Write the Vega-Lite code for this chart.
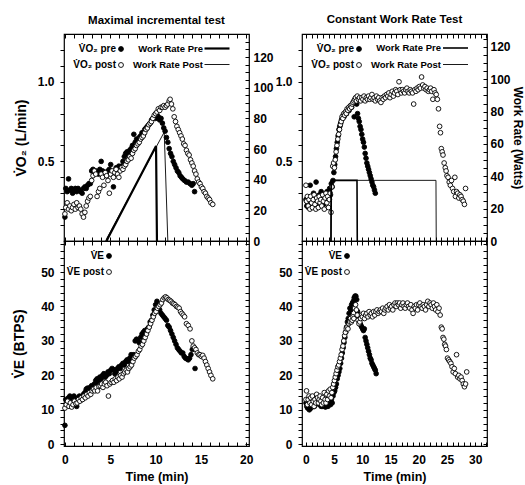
{
"$schema": "https://vega.github.io/schema/vega-lite/v6.json",
"padding": {"left": 12, "top": 13, "right": 0, "bottom": 0},
"background": "white",
"config": {
 "font": "Liberation Sans",
 "view": {"stroke": "black", "strokeWidth": 1.2},
 "axis": {"domain": false, "grid": false, "tickColor": "black", "tickSize": -4, "tickWidth": 1, "labelFontWeight": "bold", "labelFontSize": 12, "labelColor": "black", "labelPadding": 8, "titleFontWeight": "bold", "titleFontSize": 14, "titleColor": "black", "labelFlush": false, "labelOverlap": false},
 "legend": {"labelFontWeight": "bold", "labelFontSize": 10, "labelColor": "black", "labelAlign": "right"},
 "title": {"fontWeight": "bold", "fontSize": 11.5, "color": "black", "offset": 7, "anchor": "middle", "frame": "group"}
},
"datasets": {
"inc_vo2": [
{"t":0,"v":0.15,"s":"pre"},{"t":0.1,"v":0.33,"s":"pre"},{"t":0.25,"v":0.31,"s":"pre"},{"t":0.4,"v":0.39,"s":"pre"},{"t":0.55,"v":0.32,"s":"pre"},{"t":0.7,"v":0.33,"s":"pre"},{"t":0.85,"v":0.30,"s":"pre"},{"t":1.0,"v":0.32,"s":"pre"},{"t":1.15,"v":0.33,"s":"pre"},{"t":1.3,"v":0.31,"s":"pre"},{"t":1.45,"v":0.33,"s":"pre"},{"t":1.6,"v":0.32,"s":"pre"},{"t":1.75,"v":0.31,"s":"pre"},{"t":1.9,"v":0.30,"s":"pre"},{"t":2.05,"v":0.33,"s":"pre"},{"t":2.2,"v":0.34,"s":"pre"},{"t":2.35,"v":0.33,"s":"pre"},{"t":2.5,"v":0.35,"s":"pre"},{"t":2.65,"v":0.36,"s":"pre"},{"t":2.8,"v":0.36,"s":"pre"},{"t":2.95,"v":0.44,"s":"pre"},{"t":3.1,"v":0.45,"s":"pre"},{"t":3.25,"v":0.43,"s":"pre"},{"t":3.4,"v":0.44,"s":"pre"},{"t":3.55,"v":0.43,"s":"pre"},{"t":3.7,"v":0.42,"s":"pre"},{"t":3.85,"v":0.45,"s":"pre"},{"t":4.0,"v":0.50,"s":"pre"},{"t":4.15,"v":0.44,"s":"pre"},{"t":4.3,"v":0.42,"s":"pre"},{"t":4.45,"v":0.43,"s":"pre"},{"t":4.6,"v":0.41,"s":"pre"},{"t":4.75,"v":0.44,"s":"pre"},{"t":4.9,"v":0.45,"s":"pre"},{"t":5.05,"v":0.48,"s":"pre"},{"t":5.2,"v":0.43,"s":"pre"},{"t":5.35,"v":0.34,"s":"pre"},{"t":5.5,"v":0.44,"s":"pre"},{"t":5.65,"v":0.46,"s":"pre"},{"t":5.8,"v":0.45,"s":"pre"},{"t":5.95,"v":0.47,"s":"pre"},{"t":6.1,"v":0.46,"s":"pre"},{"t":6.25,"v":0.47,"s":"pre"},{"t":6.4,"v":0.50,"s":"pre"},{"t":6.55,"v":0.53,"s":"pre"},{"t":6.7,"v":0.55,"s":"pre"},{"t":6.85,"v":0.56,"s":"pre"},{"t":7.0,"v":0.54,"s":"pre"},{"t":7.15,"v":0.57,"s":"pre"},{"t":7.3,"v":0.58,"s":"pre"},{"t":7.45,"v":0.60,"s":"pre"},{"t":7.6,"v":0.67,"s":"pre"},{"t":7.75,"v":0.62,"s":"pre"},{"t":7.9,"v":0.64,"s":"pre"},{"t":8.05,"v":0.63,"s":"pre"},{"t":8.2,"v":0.65,"s":"pre"},{"t":8.35,"v":0.66,"s":"pre"},{"t":8.5,"v":0.68,"s":"pre"},{"t":8.65,"v":0.67,"s":"pre"},{"t":8.8,"v":0.70,"s":"pre"},{"t":8.95,"v":0.71,"s":"pre"},{"t":9.1,"v":0.72,"s":"pre"},{"t":9.25,"v":0.73,"s":"pre"},{"t":9.4,"v":0.74,"s":"pre"},{"t":9.55,"v":0.76,"s":"pre"},{"t":9.7,"v":0.77,"s":"pre"},{"t":9.85,"v":0.78,"s":"pre"},{"t":10.0,"v":0.77,"s":"pre"},{"t":10.15,"v":0.79,"s":"pre"},{"t":10.3,"v":0.78,"s":"pre"},{"t":10.45,"v":0.76,"s":"pre"},{"t":10.6,"v":0.77,"s":"pre"},{"t":10.75,"v":0.74,"s":"pre"},{"t":10.9,"v":0.71,"s":"pre"},{"t":11.05,"v":0.69,"s":"pre"},{"t":11.2,"v":0.65,"s":"pre"},{"t":11.35,"v":0.62,"s":"pre"},{"t":11.5,"v":0.58,"s":"pre"},{"t":11.65,"v":0.55,"s":"pre"},{"t":11.8,"v":0.53,"s":"pre"},{"t":11.95,"v":0.50,"s":"pre"},{"t":12.1,"v":0.48,"s":"pre"},{"t":12.25,"v":0.46,"s":"pre"},{"t":12.4,"v":0.44,"s":"pre"},{"t":12.55,"v":0.43,"s":"pre"},{"t":12.7,"v":0.41,"s":"pre"},{"t":12.85,"v":0.40,"s":"pre"},{"t":13.0,"v":0.39,"s":"pre"},{"t":13.2,"v":0.38,"s":"pre"},{"t":13.4,"v":0.37,"s":"pre"},{"t":13.6,"v":0.37,"s":"pre"},{"t":13.8,"v":0.36,"s":"pre"},{"t":14.0,"v":0.35,"s":"pre"},{"t":14.15,"v":0.36,"s":"pre"},{"t":14.3,"v":0.31,"s":"pre"},
{"t":0,"v":0.17,"s":"post"},{"t":0.1,"v":0.21,"s":"post"},{"t":0.25,"v":0.24,"s":"post"},{"t":0.4,"v":0.20,"s":"post"},{"t":0.55,"v":0.22,"s":"post"},{"t":0.7,"v":0.19,"s":"post"},{"t":0.85,"v":0.21,"s":"post"},{"t":1.0,"v":0.23,"s":"post"},{"t":1.15,"v":0.20,"s":"post"},{"t":1.3,"v":0.24,"s":"post"},{"t":1.45,"v":0.21,"s":"post"},{"t":1.6,"v":0.22,"s":"post"},{"t":1.75,"v":0.20,"s":"post"},{"t":1.9,"v":0.17,"s":"post"},{"t":2.05,"v":0.15,"s":"post"},{"t":2.2,"v":0.18,"s":"post"},{"t":2.35,"v":0.22,"s":"post"},{"t":2.5,"v":0.25,"s":"post"},{"t":2.65,"v":0.27,"s":"post"},{"t":2.8,"v":0.28,"s":"post"},{"t":2.95,"v":0.38,"s":"post"},{"t":3.1,"v":0.41,"s":"post"},{"t":3.25,"v":0.44,"s":"post"},{"t":3.4,"v":0.42,"s":"post"},{"t":3.55,"v":0.28,"s":"post"},{"t":3.7,"v":0.31,"s":"post"},{"t":3.85,"v":0.33,"s":"post"},{"t":4.0,"v":0.42,"s":"post"},{"t":4.15,"v":0.40,"s":"post"},{"t":4.3,"v":0.35,"s":"post"},{"t":4.45,"v":0.43,"s":"post"},{"t":4.6,"v":0.41,"s":"post"},{"t":4.75,"v":0.38,"s":"post"},{"t":4.9,"v":0.30,"s":"post"},{"t":5.05,"v":0.42,"s":"post"},{"t":5.2,"v":0.44,"s":"post"},{"t":5.35,"v":0.40,"s":"post"},{"t":5.5,"v":0.43,"s":"post"},{"t":5.65,"v":0.45,"s":"post"},{"t":5.8,"v":0.42,"s":"post"},{"t":5.95,"v":0.40,"s":"post"},{"t":6.1,"v":0.44,"s":"post"},{"t":6.25,"v":0.46,"s":"post"},{"t":6.4,"v":0.45,"s":"post"},{"t":6.55,"v":0.47,"s":"post"},{"t":6.7,"v":0.48,"s":"post"},{"t":6.85,"v":0.50,"s":"post"},{"t":7.0,"v":0.51,"s":"post"},{"t":7.15,"v":0.53,"s":"post"},{"t":7.3,"v":0.52,"s":"post"},{"t":7.45,"v":0.55,"s":"post"},{"t":7.6,"v":0.57,"s":"post"},{"t":7.75,"v":0.58,"s":"post"},{"t":7.9,"v":0.60,"s":"post"},{"t":8.05,"v":0.61,"s":"post"},{"t":8.2,"v":0.62,"s":"post"},{"t":8.35,"v":0.64,"s":"post"},{"t":8.5,"v":0.65,"s":"post"},{"t":8.65,"v":0.66,"s":"post"},{"t":8.8,"v":0.68,"s":"post"},{"t":8.95,"v":0.70,"s":"post"},{"t":9.1,"v":0.71,"s":"post"},{"t":9.25,"v":0.73,"s":"post"},{"t":9.4,"v":0.74,"s":"post"},{"t":9.55,"v":0.75,"s":"post"},{"t":9.7,"v":0.77,"s":"post"},{"t":9.85,"v":0.79,"s":"post"},{"t":10.0,"v":0.80,"s":"post"},{"t":10.15,"v":0.81,"s":"post"},{"t":10.3,"v":0.83,"s":"post"},{"t":10.45,"v":0.82,"s":"post"},{"t":10.6,"v":0.84,"s":"post"},{"t":10.75,"v":0.84,"s":"post"},{"t":10.9,"v":0.85,"s":"post"},{"t":11.05,"v":0.84,"s":"post"},{"t":11.2,"v":0.85,"s":"post"},{"t":11.35,"v":0.86,"s":"post"},{"t":11.5,"v":0.88,"s":"post"},{"t":11.6,"v":0.89,"s":"post"},{"t":11.75,"v":0.86,"s":"post"},{"t":11.9,"v":0.83,"s":"post"},{"t":12.05,"v":0.78,"s":"post"},{"t":12.2,"v":0.75,"s":"post"},{"t":12.35,"v":0.72,"s":"post"},{"t":12.5,"v":0.70,"s":"post"},{"t":12.65,"v":0.68,"s":"post"},{"t":12.8,"v":0.66,"s":"post"},{"t":12.95,"v":0.64,"s":"post"},{"t":13.1,"v":0.61,"s":"post"},{"t":13.25,"v":0.60,"s":"post"},{"t":13.4,"v":0.57,"s":"post"},{"t":13.55,"v":0.55,"s":"post"},{"t":13.7,"v":0.54,"s":"post"},{"t":13.85,"v":0.51,"s":"post"},{"t":14.0,"v":0.49,"s":"post"},{"t":14.15,"v":0.47,"s":"post"},{"t":14.3,"v":0.44,"s":"post"},{"t":14.45,"v":0.42,"s":"post"},{"t":14.6,"v":0.39,"s":"post"},{"t":14.75,"v":0.37,"s":"post"},{"t":14.9,"v":0.36,"s":"post"},{"t":15.05,"v":0.34,"s":"post"},{"t":15.2,"v":0.33,"s":"post"},{"t":15.35,"v":0.31,"s":"post"},{"t":15.5,"v":0.30,"s":"post"},{"t":15.65,"v":0.28,"s":"post"},{"t":15.8,"v":0.27,"s":"post"},{"t":15.95,"v":0.26,"s":"post"},{"t":16.1,"v":0.24,"s":"post"},{"t":16.3,"v":0.23,"s":"post"}
],
"inc_wr": [
{"t":4.6,"w":0,"s":"pre"},{"t":4.75,"w":2,"s":"pre"},{"t":10.05,"w":62,"s":"pre"},{"t":10.15,"w":0,"s":"pre"},
{"t":4.5,"w":0,"s":"post"},{"t":4.65,"w":2,"s":"post"},{"t":10.95,"w":71,"s":"post"},{"t":11.35,"w":0,"s":"post"}
],
"inc_ve": [
{"t":0,"v":5.5,"s":"pre"},{"t":0.1,"v":13.0,"s":"pre"},{"t":0.25,"v":12.0,"s":"pre"},{"t":0.4,"v":13.5,"s":"pre"},{"t":0.55,"v":14.0,"s":"pre"},{"t":0.7,"v":13.2,"s":"pre"},{"t":0.85,"v":12.5,"s":"pre"},{"t":1.0,"v":14.0,"s":"pre"},{"t":1.15,"v":13.0,"s":"pre"},{"t":1.3,"v":11.0,"s":"pre"},{"t":1.45,"v":13.5,"s":"pre"},{"t":1.6,"v":14.0,"s":"pre"},{"t":1.75,"v":12.8,"s":"pre"},{"t":1.9,"v":13.5,"s":"pre"},{"t":2.05,"v":14.5,"s":"pre"},{"t":2.2,"v":15.0,"s":"pre"},{"t":2.35,"v":16.0,"s":"pre"},{"t":2.5,"v":16.3,"s":"pre"},{"t":2.65,"v":15.8,"s":"pre"},{"t":2.8,"v":16.5,"s":"pre"},{"t":2.95,"v":17.0,"s":"pre"},{"t":3.1,"v":16.5,"s":"pre"},{"t":3.25,"v":17.5,"s":"pre"},{"t":3.4,"v":18.5,"s":"pre"},{"t":3.55,"v":19.0,"s":"pre"},{"t":3.7,"v":18.0,"s":"pre"},{"t":3.85,"v":19.5,"s":"pre"},{"t":4.0,"v":19.0,"s":"pre"},{"t":4.15,"v":20.0,"s":"pre"},{"t":4.3,"v":20.5,"s":"pre"},{"t":4.45,"v":19.5,"s":"pre"},{"t":4.6,"v":20.0,"s":"pre"},{"t":4.75,"v":21.0,"s":"pre"},{"t":4.9,"v":20.5,"s":"pre"},{"t":5.05,"v":21.5,"s":"pre"},{"t":5.2,"v":22.0,"s":"pre"},{"t":5.35,"v":21.7,"s":"pre"},{"t":5.5,"v":20.5,"s":"pre"},{"t":5.65,"v":21.0,"s":"pre"},{"t":5.8,"v":22.0,"s":"pre"},{"t":5.95,"v":22.5,"s":"pre"},{"t":6.1,"v":22.0,"s":"pre"},{"t":6.25,"v":23.0,"s":"pre"},{"t":6.4,"v":23.5,"s":"pre"},{"t":6.55,"v":23.0,"s":"pre"},{"t":6.7,"v":24.0,"s":"pre"},{"t":6.85,"v":24.5,"s":"pre"},{"t":7.0,"v":24.0,"s":"pre"},{"t":7.15,"v":25.0,"s":"pre"},{"t":7.3,"v":26.0,"s":"pre"},{"t":7.45,"v":25.5,"s":"pre"},{"t":7.6,"v":26.0,"s":"pre"},{"t":7.75,"v":30.0,"s":"pre"},{"t":7.9,"v":30.5,"s":"pre"},{"t":8.05,"v":30.0,"s":"pre"},{"t":8.2,"v":29.5,"s":"pre"},{"t":8.35,"v":31.0,"s":"pre"},{"t":8.5,"v":32.0,"s":"pre"},{"t":8.65,"v":32.5,"s":"pre"},{"t":8.8,"v":33.0,"s":"pre"},{"t":8.95,"v":32.5,"s":"pre"},{"t":9.1,"v":33.5,"s":"pre"},{"t":9.25,"v":34.0,"s":"pre"},{"t":9.4,"v":35.5,"s":"pre"},{"t":9.55,"v":36.0,"s":"pre"},{"t":9.7,"v":37.5,"s":"pre"},{"t":9.85,"v":39.0,"s":"pre"},{"t":10.0,"v":40.5,"s":"pre"},{"t":10.15,"v":41.5,"s":"pre"},{"t":10.3,"v":40.0,"s":"pre"},{"t":10.45,"v":39.0,"s":"pre"},{"t":10.6,"v":38.0,"s":"pre"},{"t":10.75,"v":37.5,"s":"pre"},{"t":10.9,"v":37.0,"s":"pre"},{"t":11.05,"v":36.5,"s":"pre"},{"t":11.2,"v":36.0,"s":"pre"},{"t":11.35,"v":34.5,"s":"pre"},{"t":11.5,"v":34.0,"s":"pre"},{"t":11.65,"v":33.0,"s":"pre"},{"t":11.8,"v":32.0,"s":"pre"},{"t":11.95,"v":31.0,"s":"pre"},{"t":12.1,"v":30.0,"s":"pre"},{"t":12.25,"v":29.0,"s":"pre"},{"t":12.4,"v":28.0,"s":"pre"},{"t":12.55,"v":27.5,"s":"pre"},{"t":12.7,"v":27.0,"s":"pre"},{"t":12.85,"v":26.5,"s":"pre"},{"t":13.0,"v":26.5,"s":"pre"},{"t":13.15,"v":25.5,"s":"pre"},{"t":13.3,"v":25.0,"s":"pre"},{"t":13.45,"v":24.8,"s":"pre"},{"t":13.6,"v":24.5,"s":"pre"},{"t":13.75,"v":25.0,"s":"pre"},{"t":13.9,"v":26.0,"s":"pre"},{"t":14.05,"v":27.5,"s":"pre"},{"t":14.2,"v":28.0,"s":"pre"},{"t":14.35,"v":22.0,"s":"pre"},
{"t":0,"v":10.5,"s":"post"},{"t":0.15,"v":11.5,"s":"post"},{"t":0.3,"v":12.5,"s":"post"},{"t":0.45,"v":11.0,"s":"post"},{"t":0.6,"v":12.0,"s":"post"},{"t":0.75,"v":10.8,"s":"post"},{"t":0.9,"v":11.5,"s":"post"},{"t":1.05,"v":12.5,"s":"post"},{"t":1.2,"v":11.8,"s":"post"},{"t":1.35,"v":12.0,"s":"post"},{"t":1.5,"v":13.0,"s":"post"},{"t":1.65,"v":12.5,"s":"post"},{"t":1.8,"v":13.5,"s":"post"},{"t":1.95,"v":13.0,"s":"post"},{"t":2.1,"v":14.0,"s":"post"},{"t":2.25,"v":13.5,"s":"post"},{"t":2.4,"v":14.5,"s":"post"},{"t":2.55,"v":14.0,"s":"post"},{"t":2.7,"v":15.0,"s":"post"},{"t":2.85,"v":14.5,"s":"post"},{"t":3.0,"v":15.5,"s":"post"},{"t":3.15,"v":16.0,"s":"post"},{"t":3.3,"v":15.5,"s":"post"},{"t":3.45,"v":16.5,"s":"post"},{"t":3.6,"v":15.5,"s":"post"},{"t":3.75,"v":16.8,"s":"post"},{"t":3.9,"v":17.0,"s":"post"},{"t":4.05,"v":17.5,"s":"post"},{"t":4.2,"v":16.5,"s":"post"},{"t":4.35,"v":17.5,"s":"post"},{"t":4.5,"v":18.0,"s":"post"},{"t":4.65,"v":17.0,"s":"post"},{"t":4.8,"v":14.0,"s":"post"},{"t":4.95,"v":17.5,"s":"post"},{"t":5.1,"v":18.0,"s":"post"},{"t":5.25,"v":18.5,"s":"post"},{"t":5.4,"v":18.0,"s":"post"},{"t":5.55,"v":19.0,"s":"post"},{"t":5.7,"v":18.5,"s":"post"},{"t":5.85,"v":19.5,"s":"post"},{"t":6.0,"v":19.0,"s":"post"},{"t":6.15,"v":20.0,"s":"post"},{"t":6.3,"v":19.5,"s":"post"},{"t":6.45,"v":20.5,"s":"post"},{"t":6.6,"v":21.0,"s":"post"},{"t":6.75,"v":21.5,"s":"post"},{"t":6.9,"v":21.0,"s":"post"},{"t":7.05,"v":22.0,"s":"post"},{"t":7.2,"v":22.5,"s":"post"},{"t":7.35,"v":23.0,"s":"post"},{"t":7.5,"v":24.0,"s":"post"},{"t":7.65,"v":25.0,"s":"post"},{"t":7.8,"v":25.5,"s":"post"},{"t":7.95,"v":26.0,"s":"post"},{"t":8.1,"v":27.0,"s":"post"},{"t":8.25,"v":27.5,"s":"post"},{"t":8.4,"v":28.5,"s":"post"},{"t":8.55,"v":29.0,"s":"post"},{"t":8.7,"v":30.0,"s":"post"},{"t":8.85,"v":31.0,"s":"post"},{"t":9.0,"v":32.0,"s":"post"},{"t":9.15,"v":33.0,"s":"post"},{"t":9.3,"v":34.0,"s":"post"},{"t":9.45,"v":35.0,"s":"post"},{"t":9.6,"v":36.0,"s":"post"},{"t":9.75,"v":37.0,"s":"post"},{"t":9.9,"v":38.0,"s":"post"},{"t":10.05,"v":38.5,"s":"post"},{"t":10.2,"v":39.5,"s":"post"},{"t":10.35,"v":40.0,"s":"post"},{"t":10.5,"v":40.5,"s":"post"},{"t":10.65,"v":41.0,"s":"post"},{"t":10.8,"v":42.0,"s":"post"},{"t":10.95,"v":42.5,"s":"post"},{"t":11.1,"v":42.8,"s":"post"},{"t":11.25,"v":42.5,"s":"post"},{"t":11.4,"v":42.0,"s":"post"},{"t":11.55,"v":41.8,"s":"post"},{"t":11.7,"v":41.5,"s":"post"},{"t":11.85,"v":41.0,"s":"post"},{"t":12.0,"v":40.8,"s":"post"},{"t":12.15,"v":40.5,"s":"post"},{"t":12.3,"v":40.0,"s":"post"},{"t":12.45,"v":39.8,"s":"post"},{"t":12.6,"v":39.5,"s":"post"},{"t":12.75,"v":38.5,"s":"post"},{"t":12.9,"v":38.0,"s":"post"},{"t":13.05,"v":37.5,"s":"post"},{"t":13.2,"v":37.0,"s":"post"},{"t":13.4,"v":35.0,"s":"post"},{"t":13.6,"v":34.5,"s":"post"},{"t":13.8,"v":33.5,"s":"post"},{"t":14.0,"v":30.0,"s":"post"},{"t":14.15,"v":28.5,"s":"post"},{"t":14.3,"v":28.0,"s":"post"},{"t":14.45,"v":27.5,"s":"post"},{"t":14.6,"v":26.5,"s":"post"},{"t":14.75,"v":26.0,"s":"post"},{"t":14.9,"v":26.0,"s":"post"},{"t":15.05,"v":25.5,"s":"post"},{"t":15.2,"v":25.8,"s":"post"},{"t":15.35,"v":25.0,"s":"post"},{"t":15.5,"v":24.0,"s":"post"},{"t":15.65,"v":23.0,"s":"post"},{"t":15.8,"v":22.0,"s":"post"},{"t":15.95,"v":21.0,"s":"post"},{"t":16.1,"v":20.0,"s":"post"},{"t":16.3,"v":19.0,"s":"post"}
],
"cwr_vo2": [
{"t":0,"v":0.26,"s":"pre"},{"t":0.15,"v":0.22,"s":"pre"},{"t":0.3,"v":0.24,"s":"pre"},{"t":0.45,"v":0.21,"s":"pre"},{"t":0.6,"v":0.27,"s":"pre"},{"t":0.75,"v":0.35,"s":"pre"},{"t":0.9,"v":0.23,"s":"pre"},{"t":1.05,"v":0.25,"s":"pre"},{"t":1.2,"v":0.22,"s":"pre"},{"t":1.35,"v":0.30,"s":"pre"},{"t":1.5,"v":0.27,"s":"pre"},{"t":1.65,"v":0.24,"s":"pre"},{"t":1.8,"v":0.37,"s":"pre"},{"t":1.95,"v":0.28,"s":"pre"},{"t":2.1,"v":0.25,"s":"pre"},{"t":2.25,"v":0.22,"s":"pre"},{"t":2.4,"v":0.29,"s":"pre"},{"t":2.55,"v":0.26,"s":"pre"},{"t":2.7,"v":0.31,"s":"pre"},{"t":2.85,"v":0.24,"s":"pre"},{"t":3.0,"v":0.27,"s":"pre"},{"t":3.15,"v":0.23,"s":"pre"},{"t":3.3,"v":0.29,"s":"pre"},{"t":3.45,"v":0.25,"s":"pre"},{"t":3.6,"v":0.28,"s":"pre"},{"t":3.75,"v":0.31,"s":"pre"},{"t":3.9,"v":0.26,"s":"pre"},{"t":4.05,"v":0.30,"s":"pre"},{"t":4.2,"v":0.33,"s":"pre"},{"t":4.35,"v":0.29,"s":"pre"},{"t":4.5,"v":0.36,"s":"pre"},{"t":4.65,"v":0.34,"s":"pre"},{"t":4.8,"v":0.38,"s":"pre"},{"t":4.95,"v":0.43,"s":"pre"},{"t":5.1,"v":0.48,"s":"pre"},{"t":5.25,"v":0.53,"s":"pre"},{"t":5.4,"v":0.58,"s":"pre"},{"t":5.55,"v":0.62,"s":"pre"},{"t":5.7,"v":0.66,"s":"pre"},{"t":5.85,"v":0.70,"s":"pre"},{"t":6.0,"v":0.72,"s":"pre"},{"t":6.15,"v":0.74,"s":"pre"},{"t":6.3,"v":0.76,"s":"pre"},{"t":6.45,"v":0.77,"s":"pre"},{"t":6.6,"v":0.79,"s":"pre"},{"t":6.75,"v":0.78,"s":"pre"},{"t":6.9,"v":0.80,"s":"pre"},{"t":7.05,"v":0.81,"s":"pre"},{"t":7.2,"v":0.80,"s":"pre"},{"t":7.35,"v":0.82,"s":"pre"},{"t":7.5,"v":0.83,"s":"pre"},{"t":7.65,"v":0.82,"s":"pre"},{"t":7.8,"v":0.84,"s":"pre"},{"t":7.95,"v":0.85,"s":"pre"},{"t":8.1,"v":0.84,"s":"pre"},{"t":8.25,"v":0.86,"s":"pre"},{"t":8.4,"v":0.87,"s":"pre"},{"t":8.55,"v":0.78,"s":"pre"},{"t":8.7,"v":0.87,"s":"pre"},{"t":8.85,"v":0.88,"s":"pre"},{"t":9.0,"v":0.86,"s":"pre"},{"t":9.15,"v":0.80,"s":"pre"},{"t":9.3,"v":0.77,"s":"pre"},{"t":9.45,"v":0.75,"s":"pre"},{"t":9.6,"v":0.72,"s":"pre"},{"t":9.75,"v":0.70,"s":"pre"},{"t":9.9,"v":0.67,"s":"pre"},{"t":10.05,"v":0.64,"s":"pre"},{"t":10.2,"v":0.62,"s":"pre"},{"t":10.35,"v":0.59,"s":"pre"},{"t":10.5,"v":0.55,"s":"pre"},{"t":10.65,"v":0.52,"s":"pre"},{"t":10.8,"v":0.49,"s":"pre"},{"t":10.95,"v":0.47,"s":"pre"},{"t":11.1,"v":0.45,"s":"pre"},{"t":11.25,"v":0.43,"s":"pre"},{"t":11.4,"v":0.41,"s":"pre"},{"t":11.55,"v":0.39,"s":"pre"},{"t":11.7,"v":0.37,"s":"pre"},{"t":11.85,"v":0.35,"s":"pre"},{"t":12.0,"v":0.34,"s":"pre"},{"t":12.15,"v":0.32,"s":"pre"},{"t":12.3,"v":0.30,"s":"pre"},
{"t":0,"v":0.35,"s":"post"},{"t":0.1,"v":0.25,"s":"post"},{"t":0.25,"v":0.28,"s":"post"},{"t":0.4,"v":0.22,"s":"post"},{"t":0.55,"v":0.26,"s":"post"},{"t":0.7,"v":0.20,"s":"post"},{"t":0.85,"v":0.28,"s":"post"},{"t":1.0,"v":0.24,"s":"post"},{"t":1.15,"v":0.21,"s":"post"},{"t":1.3,"v":0.26,"s":"post"},{"t":1.45,"v":0.29,"s":"post"},{"t":1.6,"v":0.23,"s":"post"},{"t":1.75,"v":0.20,"s":"post"},{"t":1.9,"v":0.27,"s":"post"},{"t":2.05,"v":0.25,"s":"post"},{"t":2.2,"v":0.21,"s":"post"},{"t":2.35,"v":0.28,"s":"post"},{"t":2.5,"v":0.24,"s":"post"},{"t":2.65,"v":0.26,"s":"post"},{"t":2.8,"v":0.22,"s":"post"},{"t":2.95,"v":0.29,"s":"post"},{"t":3.1,"v":0.25,"s":"post"},{"t":3.25,"v":0.20,"s":"post"},{"t":3.4,"v":0.27,"s":"post"},{"t":3.55,"v":0.30,"s":"post"},{"t":3.7,"v":0.24,"s":"post"},{"t":3.85,"v":0.28,"s":"post"},{"t":4.0,"v":0.21,"s":"post"},{"t":4.15,"v":0.26,"s":"post"},{"t":4.3,"v":0.30,"s":"post"},{"t":4.45,"v":0.18,"s":"post"},{"t":4.6,"v":0.34,"s":"post"},{"t":4.75,"v":0.47,"s":"post"},{"t":4.9,"v":0.49,"s":"post"},{"t":5.05,"v":0.46,"s":"post"},{"t":5.2,"v":0.51,"s":"post"},{"t":5.35,"v":0.56,"s":"post"},{"t":5.5,"v":0.60,"s":"post"},{"t":5.65,"v":0.64,"s":"post"},{"t":5.8,"v":0.67,"s":"post"},{"t":5.95,"v":0.70,"s":"post"},{"t":6.1,"v":0.73,"s":"post"},{"t":6.25,"v":0.75,"s":"post"},{"t":6.4,"v":0.78,"s":"post"},{"t":6.55,"v":0.77,"s":"post"},{"t":6.7,"v":0.80,"s":"post"},{"t":6.85,"v":0.79,"s":"post"},{"t":7.0,"v":0.81,"s":"post"},{"t":7.15,"v":0.80,"s":"post"},{"t":7.3,"v":0.83,"s":"post"},{"t":7.45,"v":0.82,"s":"post"},{"t":7.6,"v":0.84,"s":"post"},{"t":7.75,"v":0.83,"s":"post"},{"t":7.9,"v":0.85,"s":"post"},{"t":8.05,"v":0.84,"s":"post"},{"t":8.2,"v":0.86,"s":"post"},{"t":8.35,"v":0.87,"s":"post"},{"t":8.5,"v":0.88,"s":"post"},{"t":8.65,"v":0.89,"s":"post"},{"t":8.8,"v":0.90,"s":"post"},{"t":8.95,"v":0.88,"s":"post"},{"t":9.1,"v":0.91,"s":"post"},{"t":9.3,"v":0.89,"s":"post"},{"t":9.5,"v":0.90,"s":"post"},{"t":9.7,"v":0.88,"s":"post"},{"t":9.9,"v":0.90,"s":"post"},{"t":10.1,"v":0.89,"s":"post"},{"t":10.3,"v":0.91,"s":"post"},{"t":10.5,"v":0.88,"s":"post"},{"t":10.7,"v":0.90,"s":"post"},{"t":10.9,"v":0.89,"s":"post"},{"t":11.1,"v":0.91,"s":"post"},{"t":11.3,"v":0.89,"s":"post"},{"t":11.5,"v":0.90,"s":"post"},{"t":11.7,"v":0.92,"s":"post"},{"t":11.9,"v":0.89,"s":"post"},{"t":12.1,"v":0.90,"s":"post"},{"t":12.3,"v":0.88,"s":"post"},{"t":12.5,"v":0.91,"s":"post"},{"t":12.7,"v":0.89,"s":"post"},{"t":12.9,"v":0.90,"s":"post"},{"t":13.1,"v":0.88,"s":"post"},{"t":13.3,"v":0.87,"s":"post"},{"t":13.5,"v":0.90,"s":"post"},{"t":13.7,"v":0.89,"s":"post"},{"t":13.9,"v":0.91,"s":"post"},{"t":14.1,"v":0.90,"s":"post"},{"t":14.3,"v":0.92,"s":"post"},{"t":14.5,"v":0.91,"s":"post"},{"t":14.7,"v":0.93,"s":"post"},{"t":14.9,"v":0.90,"s":"post"},{"t":15.1,"v":0.92,"s":"post"},{"t":15.3,"v":0.94,"s":"post"},{"t":15.5,"v":0.91,"s":"post"},{"t":15.7,"v":0.93,"s":"post"},{"t":15.9,"v":0.95,"s":"post"},{"t":16.1,"v":0.94,"s":"post"},{"t":16.3,"v":0.92,"s":"post"},{"t":16.5,"v":1.00,"s":"post"},{"t":16.7,"v":0.95,"s":"post"},{"t":16.9,"v":0.93,"s":"post"},{"t":17.1,"v":0.95,"s":"post"},{"t":17.3,"v":0.94,"s":"post"},{"t":17.5,"v":0.93,"s":"post"},{"t":17.7,"v":0.95,"s":"post"},{"t":17.9,"v":0.96,"s":"post"},{"t":18.1,"v":0.94,"s":"post"},{"t":18.3,"v":0.93,"s":"post"},{"t":18.5,"v":0.95,"s":"post"},{"t":18.7,"v":0.94,"s":"post"},{"t":18.9,"v":0.93,"s":"post"},{"t":19.1,"v":0.86,"s":"post"},{"t":19.3,"v":0.95,"s":"post"},{"t":19.5,"v":0.94,"s":"post"},{"t":19.7,"v":0.96,"s":"post"},{"t":19.9,"v":0.95,"s":"post"},{"t":20.1,"v":0.97,"s":"post"},{"t":20.3,"v":0.96,"s":"post"},{"t":20.5,"v":1.03,"s":"post"},{"t":20.7,"v":0.98,"s":"post"},{"t":20.9,"v":0.96,"s":"post"},{"t":21.1,"v":0.97,"s":"post"},{"t":21.3,"v":0.95,"s":"post"},{"t":21.5,"v":0.96,"s":"post"},{"t":21.7,"v":0.94,"s":"post"},{"t":21.9,"v":0.95,"s":"post"},{"t":22.1,"v":0.96,"s":"post"},{"t":22.3,"v":0.94,"s":"post"},{"t":22.5,"v":0.89,"s":"post"},{"t":22.7,"v":0.95,"s":"post"},{"t":22.9,"v":0.93,"s":"post"},{"t":23.1,"v":0.92,"s":"post"},{"t":23.3,"v":0.89,"s":"post"},{"t":23.5,"v":0.83,"s":"post"},{"t":23.7,"v":0.72,"s":"post"},{"t":23.85,"v":0.68,"s":"post"},{"t":24.0,"v":0.58,"s":"post"},{"t":24.15,"v":0.56,"s":"post"},{"t":24.3,"v":0.54,"s":"post"},{"t":24.5,"v":0.49,"s":"post"},{"t":24.7,"v":0.46,"s":"post"},{"t":24.85,"v":0.44,"s":"post"},{"t":25.0,"v":0.41,"s":"post"},{"t":25.2,"v":0.40,"s":"post"},{"t":25.4,"v":0.37,"s":"post"},{"t":25.6,"v":0.35,"s":"post"},{"t":25.8,"v":0.38,"s":"post"},{"t":26.0,"v":0.33,"s":"post"},{"t":26.2,"v":0.31,"s":"post"},{"t":26.4,"v":0.40,"s":"post"},{"t":26.5,"v":0.28,"s":"post"},{"t":26.7,"v":0.31,"s":"post"},{"t":26.9,"v":0.30,"s":"post"},{"t":27.1,"v":0.27,"s":"post"},{"t":27.3,"v":0.29,"s":"post"},{"t":27.5,"v":0.28,"s":"post"},{"t":27.7,"v":0.26,"s":"post"},{"t":27.9,"v":0.25,"s":"post"},{"t":28.1,"v":0.23,"s":"post"},{"t":28.3,"v":0.33,"s":"post"}
],
"cwr_wr": [
{"t":4.45,"w":0,"s":"pre"},{"t":4.5,"w":37.5,"s":"pre"},{"t":9.05,"w":37.5,"s":"pre"},{"t":9.1,"w":0,"s":"pre"},
{"t":4.4,"w":0,"s":"post"},{"t":4.45,"w":37.5,"s":"post"},{"t":23.05,"w":37.5,"s":"post"},{"t":23.1,"w":0,"s":"post"}
],
"cwr_ve": [
{"t":0,"v":12.0,"s":"pre"},{"t":0.15,"v":11.0,"s":"pre"},{"t":0.3,"v":10.5,"s":"pre"},{"t":0.45,"v":12.5,"s":"pre"},{"t":0.6,"v":10.0,"s":"pre"},{"t":0.75,"v":11.0,"s":"pre"},{"t":0.9,"v":10.5,"s":"pre"},{"t":1.05,"v":12.0,"s":"pre"},{"t":1.2,"v":11.5,"s":"pre"},{"t":1.35,"v":12.5,"s":"pre"},{"t":1.5,"v":11.0,"s":"pre"},{"t":1.65,"v":12.0,"s":"pre"},{"t":1.8,"v":13.5,"s":"pre"},{"t":1.95,"v":14.0,"s":"pre"},{"t":2.1,"v":13.0,"s":"pre"},{"t":2.25,"v":12.5,"s":"pre"},{"t":2.4,"v":11.5,"s":"pre"},{"t":2.55,"v":12.0,"s":"pre"},{"t":2.7,"v":11.0,"s":"pre"},{"t":2.85,"v":12.5,"s":"pre"},{"t":3.0,"v":11.0,"s":"pre"},{"t":3.15,"v":12.0,"s":"pre"},{"t":3.3,"v":11.5,"s":"pre"},{"t":3.45,"v":10.8,"s":"pre"},{"t":3.6,"v":11.5,"s":"pre"},{"t":3.75,"v":12.0,"s":"pre"},{"t":3.9,"v":11.0,"s":"pre"},{"t":4.05,"v":12.5,"s":"pre"},{"t":4.2,"v":13.0,"s":"pre"},{"t":4.35,"v":11.5,"s":"pre"},{"t":4.5,"v":13.0,"s":"pre"},{"t":4.65,"v":12.0,"s":"pre"},{"t":4.8,"v":14.0,"s":"pre"},{"t":4.95,"v":15.0,"s":"pre"},{"t":5.1,"v":15.5,"s":"pre"},{"t":5.25,"v":16.5,"s":"pre"},{"t":5.4,"v":17.5,"s":"pre"},{"t":5.55,"v":19.0,"s":"pre"},{"t":5.7,"v":20.0,"s":"pre"},{"t":5.85,"v":21.0,"s":"pre"},{"t":6.0,"v":22.0,"s":"pre"},{"t":6.15,"v":23.5,"s":"pre"},{"t":6.3,"v":25.0,"s":"pre"},{"t":6.45,"v":26.5,"s":"pre"},{"t":6.6,"v":28.0,"s":"pre"},{"t":6.75,"v":29.5,"s":"pre"},{"t":6.9,"v":31.0,"s":"pre"},{"t":7.05,"v":32.5,"s":"pre"},{"t":7.2,"v":34.0,"s":"pre"},{"t":7.35,"v":35.5,"s":"pre"},{"t":7.5,"v":36.5,"s":"pre"},{"t":7.65,"v":38.0,"s":"pre"},{"t":7.8,"v":39.5,"s":"pre"},{"t":7.95,"v":39.0,"s":"pre"},{"t":8.1,"v":40.5,"s":"pre"},{"t":8.25,"v":41.0,"s":"pre"},{"t":8.4,"v":41.5,"s":"pre"},{"t":8.55,"v":42.5,"s":"pre"},{"t":8.7,"v":43.0,"s":"pre"},{"t":8.85,"v":43.0,"s":"pre"},{"t":9.0,"v":42.0,"s":"pre"},{"t":9.15,"v":38.5,"s":"pre"},{"t":9.3,"v":37.0,"s":"pre"},{"t":9.45,"v":36.0,"s":"pre"},{"t":9.6,"v":35.0,"s":"pre"},{"t":9.75,"v":34.5,"s":"pre"},{"t":9.9,"v":34.0,"s":"pre"},{"t":10.05,"v":33.5,"s":"pre"},{"t":10.2,"v":33.0,"s":"pre"},{"t":10.35,"v":33.5,"s":"pre"},{"t":10.5,"v":31.0,"s":"pre"},{"t":10.65,"v":30.0,"s":"pre"},{"t":10.8,"v":29.0,"s":"pre"},{"t":10.95,"v":28.0,"s":"pre"},{"t":11.1,"v":27.0,"s":"pre"},{"t":11.25,"v":26.0,"s":"pre"},{"t":11.4,"v":25.0,"s":"pre"},{"t":11.55,"v":24.5,"s":"pre"},{"t":11.7,"v":23.5,"s":"pre"},{"t":11.85,"v":23.0,"s":"pre"},{"t":12.0,"v":22.5,"s":"pre"},{"t":12.15,"v":22.0,"s":"pre"},{"t":12.3,"v":21.5,"s":"pre"},{"t":12.45,"v":20.5,"s":"pre"},
{"t":0,"v":13.0,"s":"post"},{"t":0.1,"v":15.5,"s":"post"},{"t":0.25,"v":11.5,"s":"post"},{"t":0.4,"v":13.0,"s":"post"},{"t":0.55,"v":14.0,"s":"post"},{"t":0.7,"v":12.0,"s":"post"},{"t":0.85,"v":13.5,"s":"post"},{"t":1.0,"v":11.5,"s":"post"},{"t":1.15,"v":14.0,"s":"post"},{"t":1.3,"v":12.5,"s":"post"},{"t":1.45,"v":11.0,"s":"post"},{"t":1.6,"v":13.0,"s":"post"},{"t":1.75,"v":12.0,"s":"post"},{"t":1.9,"v":14.5,"s":"post"},{"t":2.05,"v":13.5,"s":"post"},{"t":2.2,"v":12.0,"s":"post"},{"t":2.35,"v":13.0,"s":"post"},{"t":2.5,"v":14.0,"s":"post"},{"t":2.65,"v":12.5,"s":"post"},{"t":2.8,"v":11.5,"s":"post"},{"t":2.95,"v":13.5,"s":"post"},{"t":3.1,"v":12.0,"s":"post"},{"t":3.25,"v":15.0,"s":"post"},{"t":3.4,"v":13.0,"s":"post"},{"t":3.55,"v":12.0,"s":"post"},{"t":3.7,"v":14.5,"s":"post"},{"t":3.85,"v":13.0,"s":"post"},{"t":4.0,"v":15.5,"s":"post"},{"t":4.15,"v":14.0,"s":"post"},{"t":4.3,"v":16.0,"s":"post"},{"t":4.45,"v":13.5,"s":"post"},{"t":4.6,"v":15.0,"s":"post"},{"t":4.75,"v":16.5,"s":"post"},{"t":4.9,"v":17.5,"s":"post"},{"t":5.05,"v":18.5,"s":"post"},{"t":5.2,"v":19.5,"s":"post"},{"t":5.35,"v":20.5,"s":"post"},{"t":5.5,"v":21.5,"s":"post"},{"t":5.65,"v":22.5,"s":"post"},{"t":5.8,"v":23.0,"s":"post"},{"t":5.95,"v":24.0,"s":"post"},{"t":6.1,"v":25.0,"s":"post"},{"t":6.25,"v":26.0,"s":"post"},{"t":6.4,"v":27.5,"s":"post"},{"t":6.55,"v":28.5,"s":"post"},{"t":6.7,"v":30.0,"s":"post"},{"t":6.85,"v":31.5,"s":"post"},{"t":7.0,"v":32.5,"s":"post"},{"t":7.15,"v":33.5,"s":"post"},{"t":7.3,"v":34.0,"s":"post"},{"t":7.45,"v":33.5,"s":"post"},{"t":7.6,"v":35.0,"s":"post"},{"t":7.75,"v":35.5,"s":"post"},{"t":7.9,"v":36.5,"s":"post"},{"t":8.05,"v":35.5,"s":"post"},{"t":8.2,"v":36.0,"s":"post"},{"t":8.35,"v":37.0,"s":"post"},{"t":8.5,"v":36.5,"s":"post"},{"t":8.65,"v":39.5,"s":"post"},{"t":8.8,"v":40.5,"s":"post"},{"t":8.95,"v":39.0,"s":"post"},{"t":9.1,"v":37.5,"s":"post"},{"t":9.25,"v":36.0,"s":"post"},{"t":9.4,"v":35.0,"s":"post"},{"t":9.55,"v":35.5,"s":"post"},{"t":9.7,"v":36.5,"s":"post"},{"t":9.85,"v":37.5,"s":"post"},{"t":10.0,"v":37.0,"s":"post"},{"t":10.2,"v":38.0,"s":"post"},{"t":10.4,"v":36.5,"s":"post"},{"t":10.6,"v":37.5,"s":"post"},{"t":10.8,"v":38.0,"s":"post"},{"t":11.0,"v":37.0,"s":"post"},{"t":11.2,"v":38.5,"s":"post"},{"t":11.4,"v":37.5,"s":"post"},{"t":11.6,"v":38.0,"s":"post"},{"t":11.8,"v":37.0,"s":"post"},{"t":12.0,"v":38.5,"s":"post"},{"t":12.2,"v":37.5,"s":"post"},{"t":12.4,"v":38.5,"s":"post"},{"t":12.6,"v":39.0,"s":"post"},{"t":12.8,"v":38.0,"s":"post"},{"t":13.0,"v":38.5,"s":"post"},{"t":13.2,"v":39.0,"s":"post"},{"t":13.4,"v":38.5,"s":"post"},{"t":13.6,"v":39.5,"s":"post"},{"t":13.8,"v":38.0,"s":"post"},{"t":14.0,"v":39.0,"s":"post"},{"t":14.2,"v":39.5,"s":"post"},{"t":14.4,"v":40.0,"s":"post"},{"t":14.6,"v":39.0,"s":"post"},{"t":14.8,"v":40.5,"s":"post"},{"t":15.0,"v":39.5,"s":"post"},{"t":15.2,"v":40.0,"s":"post"},{"t":15.4,"v":39.0,"s":"post"},{"t":15.6,"v":40.5,"s":"post"},{"t":15.8,"v":41.0,"s":"post"},{"t":16.0,"v":40.0,"s":"post"},{"t":16.2,"v":41.0,"s":"post"},{"t":16.4,"v":40.5,"s":"post"},{"t":16.6,"v":41.0,"s":"post"},{"t":16.8,"v":39.5,"s":"post"},{"t":17.0,"v":40.5,"s":"post"},{"t":17.2,"v":41.0,"s":"post"},{"t":17.4,"v":40.0,"s":"post"},{"t":17.6,"v":39.5,"s":"post"},{"t":17.8,"v":40.5,"s":"post"},{"t":18.0,"v":41.0,"s":"post"},{"t":18.2,"v":40.0,"s":"post"},{"t":18.4,"v":39.5,"s":"post"},{"t":18.6,"v":40.5,"s":"post"},{"t":18.8,"v":39.0,"s":"post"},{"t":19.0,"v":38.0,"s":"post"},{"t":19.2,"v":40.0,"s":"post"},{"t":19.4,"v":39.5,"s":"post"},{"t":19.6,"v":40.5,"s":"post"},{"t":19.8,"v":39.0,"s":"post"},{"t":20.0,"v":40.5,"s":"post"},{"t":20.2,"v":41.0,"s":"post"},{"t":20.4,"v":40.0,"s":"post"},{"t":20.6,"v":39.5,"s":"post"},{"t":20.8,"v":40.5,"s":"post"},{"t":21.0,"v":40.0,"s":"post"},{"t":21.2,"v":39.0,"s":"post"},{"t":21.4,"v":40.5,"s":"post"},{"t":21.6,"v":41.5,"s":"post"},{"t":21.8,"v":40.0,"s":"post"},{"t":22.0,"v":41.0,"s":"post"},{"t":22.2,"v":40.5,"s":"post"},{"t":22.4,"v":39.5,"s":"post"},{"t":22.6,"v":41.0,"s":"post"},{"t":22.8,"v":40.0,"s":"post"},{"t":23.0,"v":39.0,"s":"post"},{"t":23.2,"v":40.5,"s":"post"},{"t":23.4,"v":38.5,"s":"post"},{"t":23.6,"v":39.5,"s":"post"},{"t":23.8,"v":37.5,"s":"post"},{"t":24.0,"v":34.0,"s":"post"},{"t":24.15,"v":33.5,"s":"post"},{"t":24.3,"v":31.0,"s":"post"},{"t":24.45,"v":30.5,"s":"post"},{"t":24.6,"v":29.0,"s":"post"},{"t":24.75,"v":28.5,"s":"post"},{"t":24.9,"v":27.5,"s":"post"},{"t":25.1,"v":25.0,"s":"post"},{"t":25.3,"v":24.5,"s":"post"},{"t":25.5,"v":24.0,"s":"post"},{"t":25.7,"v":23.5,"s":"post"},{"t":25.9,"v":22.5,"s":"post"},{"t":26.1,"v":21.0,"s":"post"},{"t":26.3,"v":22.0,"s":"post"},{"t":26.5,"v":20.5,"s":"post"},{"t":26.7,"v":26.0,"s":"post"},{"t":26.9,"v":19.5,"s":"post"},{"t":27.1,"v":20.0,"s":"post"},{"t":27.3,"v":19.0,"s":"post"},{"t":27.5,"v":19.5,"s":"post"},{"t":27.7,"v":18.5,"s":"post"},{"t":27.9,"v":17.5,"s":"post"},{"t":28.1,"v":16.7,"s":"post"},{"t":28.3,"v":17.5,"s":"post"},{"t":28.5,"v":21.0,"s":"post"}
]
},
"spacing": 0,
"resolve": {"scale": {"fill": "independent", "strokeWidth": "independent"}, "legend": {"fill": "independent", "strokeWidth": "independent"}},
"hconcat": [
{
 "spacing": 0,
 "bounds": "flush",
 "resolve": {"scale": {"fill": "independent", "strokeWidth": "independent"}, "legend": {"fill": "independent", "strokeWidth": "independent"}},
 "vconcat": [
  {
   "title": {"text": "Maximal incremental test"},
   "width": 185, "height": 207,
   "layer": [
    {"data": {"name": "inc_vo2"},
     "mark": {"type": "point", "shape": "circle", "filled": true, "size": 22, "stroke": "black", "strokeWidth": 0.9, "opacity": 1},
     "encoding": {
      "x": {"field": "t", "type": "quantitative", "scale": {"domain": [-0.1, 20.3], "nice": false, "zero": false}, "axis": {"orient": "bottom", "labels": false, "title": null, "maxExtent": 0, "minExtent": 0, "values": [0,1,2,3,4,5,6,7,8,9,10,11,12,13,14,15,16,17,18,19,20]}},
      "y": {"field": "v", "type": "quantitative", "scale": {"domain": [0, 1.3], "nice": false, "zero": false}, "axis": {"orient": "left", "title": "V\u0307O\u2082 (L/min)", "titlePadding": 9, "tickSize": 4, "labelPadding": 6, "format": ".1f", "values": [0.1,0.2,0.3,0.4,0.5,0.6,0.7,0.8,0.9,1.0,1.1,1.2], "labelExpr": "datum.value == 0.5 || datum.value == 1 ? datum.label : ''"}},
      "fill": {"field": "s", "type": "nominal", "scale": {"domain": ["pre", "post"], "range": ["black", "white"]}, "legend": {"title": null, "orient": "top-left", "offset": 10, "labelExpr": "datum.label == 'pre' ? 'V\u0307O\u2082 pre' : 'V\u0307O\u2082 post'", "symbolType": "circle", "symbolSize": 24, "symbolStrokeColor": "black", "symbolStrokeWidth": 0.9, "symbolOffset": 42, "labelOffset": -10, "rowPadding": 6}}
     }},
    {"data": {"name": "inc_wr"},
     "mark": {"type": "line", "color": "black"},
     "encoding": {
      "x": {"field": "t", "type": "quantitative", "axis": {"orient": "top", "labels": false, "title": null, "maxExtent": 0, "minExtent": 0, "values": [0,1,2,3,4,5,6,7,8,9,10,11,12,13,14,15,16,17,18,19,20]}},
      "y": {"field": "w", "type": "quantitative", "scale": {"domain": [0, 135], "nice": false}, "axis": {"orient": "right", "title": null, "values": [0,5,10,15,20,25,30,35,40,45,50,55,60,65,70,75,80,85,90,95,100,105,110,115,120,125,130], "labelExpr": "datum.value % 20 == 0 ? datum.label : ''"}},
      "strokeWidth": {"field": "s", "type": "nominal", "scale": {"domain": ["pre", "post"], "range": [2.2, 0.9]}, "legend": {"title": null, "orient": "top-right", "offset": 8, "labelFontSize": 9.5, "labelExpr": "datum.label == 'pre' ? 'Work Rate Pre' : 'Work Rate Post'", "symbolType": "M-5,0H0M1.4,0", "symbolSize": 100, "symbolStrokeColor": "black", "symbolOffset": 0, "labelOffset": -33, "rowPadding": 6}}
     }}
   ],
   "resolve": {"scale": {"y": "independent"}, "axis": {"x": "independent"}}
  },
  {
   "width": 185, "height": 205,
   "layer": [
    {"data": {"name": "inc_ve"},
     "mark": {"type": "point", "shape": "circle", "filled": true, "size": 22, "stroke": "black", "strokeWidth": 0.9, "opacity": 1},
     "encoding": {
      "x": {"field": "t", "type": "quantitative", "scale": {"domain": [-0.1, 20.3], "nice": false, "zero": false}, "axis": {"orient": "bottom", "title": "Time (min)", "titleFontSize": 12.5, "titlePadding": 5, "labelPadding": 12, "values": [0,1,2,3,4,5,6,7,8,9,10,11,12,13,14,15,16,17,18,19,20], "labelExpr": "datum.value % 5 == 0 ? datum.label : ''"}},
      "y": {"field": "v", "type": "quantitative", "scale": {"domain": [-0.5, 59], "nice": false, "zero": false}, "axis": {"orient": "left", "title": "V\u0307E (BTPS)", "titlePadding": 14, "tickSize": 4, "labelPadding": 6, "values": [0,2,4,6,8,10,12,14,16,18,20,22,24,26,28,30,32,34,36,38,40,42,44,46,48,50,52,54,56,58], "labelExpr": "datum.value % 10 == 0 ? datum.label : ''"}},
      "fill": {"field": "s", "type": "nominal", "scale": {"domain": ["pre", "post"], "range": ["black", "white"]}, "legend": {"title": null, "orient": "top-left", "offset": 10, "labelExpr": "datum.label == 'pre' ? 'V\u0307E' : 'V\u0307E post'", "symbolType": "circle", "symbolSize": 24, "symbolStrokeColor": "black", "symbolStrokeWidth": 0.9, "symbolOffset": 30, "labelOffset": -10, "rowPadding": 6}}
     }},
    {"data": {"name": "inc_ve"},
     "mark": {"type": "point", "opacity": 0},
     "encoding": {
      "x": {"field": "t", "type": "quantitative", "axis": {"orient": "top", "labels": false, "title": null, "maxExtent": 0, "minExtent": 0, "values": [0,1,2,3,4,5,6,7,8,9,10,11,12,13,14,15,16,17,18,19,20]}},
      "y": {"field": "v", "type": "quantitative", "axis": {"orient": "right", "labels": false, "title": null, "maxExtent": 0, "minExtent": 0, "values": [0,2,4,6,8,10,12,14,16,18,20,22,24,26,28,30,32,34,36,38,40,42,44,46,48,50,52,54,56,58]}}
     }}
   ],
   "resolve": {"axis": {"x": "independent", "y": "independent"}}
  }
 ]
},
{
 "spacing": 0,
 "bounds": "flush",
 "resolve": {"scale": {"fill": "independent", "strokeWidth": "independent"}, "legend": {"fill": "independent", "strokeWidth": "independent"}},
 "vconcat": [
  {
   "title": {"text": "Constant Work Rate Test"},
   "width": 185, "height": 207,
   "layer": [
    {"data": {"name": "cwr_vo2"},
     "mark": {"type": "point", "shape": "circle", "filled": true, "size": 22, "stroke": "black", "strokeWidth": 0.9, "opacity": 1},
     "encoding": {
      "x": {"field": "t", "type": "quantitative", "scale": {"domain": [-0.7, 32.1], "nice": false, "zero": false}, "axis": {"orient": "bottom", "labels": false, "title": null, "maxExtent": 0, "minExtent": 0, "values": [0,1,2,3,4,5,6,7,8,9,10,11,12,13,14,15,16,17,18,19,20,21,22,23,24,25,26,27,28,29,30,31,32]}},
      "y": {"field": "v", "type": "quantitative", "scale": {"domain": [0, 1.3], "nice": false, "zero": false}, "axis": {"orient": "left", "title": null, "tickSize": 4, "labelPadding": 6, "format": ".1f", "values": [0.1,0.2,0.3,0.4,0.5,0.6,0.7,0.8,0.9,1.0,1.1,1.2], "labelExpr": "datum.value == 0.5 || datum.value == 1 ? datum.label : ''"}},
      "fill": {"field": "s", "type": "nominal", "scale": {"domain": ["pre", "post"], "range": ["black", "white"]}, "legend": {"title": null, "orient": "top-left", "offset": 10, "labelExpr": "datum.label == 'pre' ? 'V\u0307O\u2082 pre' : 'V\u0307O\u2082 post'", "symbolType": "circle", "symbolSize": 24, "symbolStrokeColor": "black", "symbolStrokeWidth": 0.9, "symbolOffset": 42, "labelOffset": -10, "rowPadding": 6}}
     }},
    {"data": {"name": "cwr_wr"},
     "mark": {"type": "line", "color": "black"},
     "encoding": {
      "x": {"field": "t", "type": "quantitative", "axis": {"orient": "top", "labels": false, "title": null, "maxExtent": 0, "minExtent": 0, "values": [0,1,2,3,4,5,6,7,8,9,10,11,12,13,14,15,16,17,18,19,20,21,22,23,24,25,26,27,28,29,30,31,32]}},
      "y": {"field": "w", "type": "quantitative", "scale": {"domain": [0, 128], "nice": false}, "axis": {"orient": "right", "title": "Work Rate (Watts)", "titleFontSize": 12, "titlePadding": 0, "labelPadding": 7, "values": [0,5,10,15,20,25,30,35,40,45,50,55,60,65,70,75,80,85,90,95,100,105,110,115,120,125], "labelExpr": "datum.value % 20 == 0 ? datum.label : ''"}},
      "strokeWidth": {"field": "s", "type": "nominal", "scale": {"domain": ["pre", "post"], "range": [1.6, 0.9]}, "legend": {"title": null, "orient": "top-right", "offset": 8, "labelFontSize": 9.5, "labelExpr": "datum.label == 'pre' ? 'Work Rate Pre' : 'Work Rate Post'", "symbolType": "M-5,0H0M1.4,0", "symbolSize": 100, "symbolStrokeColor": "black", "symbolOffset": 0, "labelOffset": -33, "rowPadding": 6}}
     }}
   ],
   "resolve": {"scale": {"y": "independent"}, "axis": {"x": "independent"}}
  },
  {
   "width": 185, "height": 205,
   "layer": [
    {"data": {"name": "cwr_ve"},
     "mark": {"type": "point", "shape": "circle", "filled": true, "size": 22, "stroke": "black", "strokeWidth": 0.9, "opacity": 1},
     "encoding": {
      "x": {"field": "t", "type": "quantitative", "scale": {"domain": [-0.7, 32.1], "nice": false, "zero": false}, "axis": {"orient": "bottom", "title": "Time (min)", "titleFontSize": 12.5, "titlePadding": 5, "labelPadding": 12, "values": [0,1,2,3,4,5,6,7,8,9,10,11,12,13,14,15,16,17,18,19,20,21,22,23,24,25,26,27,28,29,30,31,32], "labelExpr": "datum.value % 5 == 0 ? datum.label : ''"}},
      "y": {"field": "v", "type": "quantitative", "scale": {"domain": [-0.5, 59], "nice": false, "zero": false}, "axis": {"orient": "left", "title": null, "tickSize": 4, "labelPadding": 6, "values": [0,2,4,6,8,10,12,14,16,18,20,22,24,26,28,30,32,34,36,38,40,42,44,46,48,50,52,54,56,58], "labelExpr": "datum.value % 10 == 0 ? datum.label : ''"}},
      "fill": {"field": "s", "type": "nominal", "scale": {"domain": ["pre", "post"], "range": ["black", "white"]}, "legend": {"title": null, "orient": "top-left", "offset": 10, "labelExpr": "datum.label == 'pre' ? 'V\u0307E' : 'V\u0307E post'", "symbolType": "circle", "symbolSize": 24, "symbolStrokeColor": "black", "symbolStrokeWidth": 0.9, "symbolOffset": 30, "labelOffset": -10, "rowPadding": 6}}
     }},
    {"data": {"name": "cwr_ve"},
     "mark": {"type": "point", "opacity": 0},
     "encoding": {
      "x": {"field": "t", "type": "quantitative", "axis": {"orient": "top", "labels": false, "title": null, "maxExtent": 0, "minExtent": 0, "values": [0,1,2,3,4,5,6,7,8,9,10,11,12,13,14,15,16,17,18,19,20,21,22,23,24,25,26,27,28,29,30,31,32]}},
      "y": {"field": "v", "type": "quantitative", "axis": {"orient": "right", "labels": false, "title": null, "maxExtent": 0, "minExtent": 0, "values": [0,2,4,6,8,10,12,14,16,18,20,22,24,26,28,30,32,34,36,38,40,42,44,46,48,50,52,54,56,58]}}
     }}
   ],
   "resolve": {"axis": {"x": "independent", "y": "independent"}}
  }
 ]
}
]
}
